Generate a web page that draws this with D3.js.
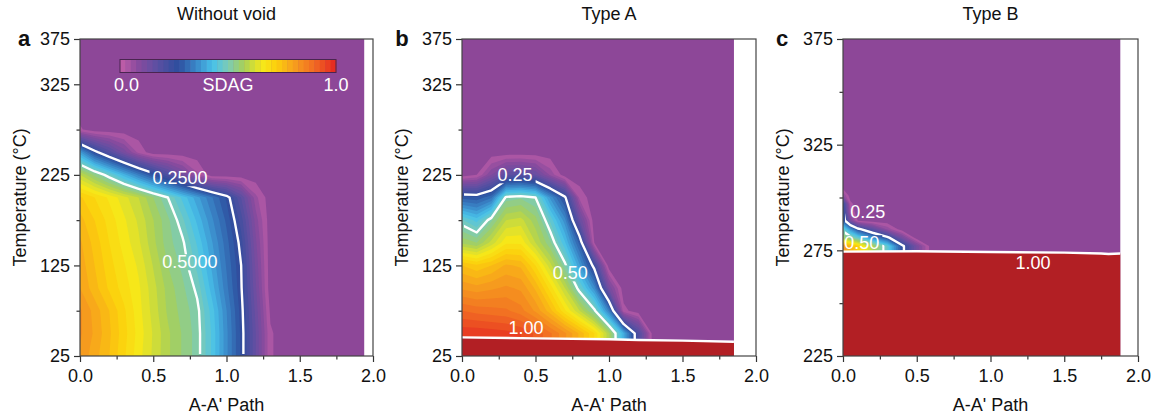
<!DOCTYPE html>
<html>
<head>
<meta charset="utf-8">
<script src="https://cdn.jsdelivr.net/npm/d3@7"></script>
<style>
  body { margin: 0; background: #fff; }
  svg { font-family: Arial, "Liberation Sans", sans-serif; }
</style>
</head>
<body>
<svg id="chart" width="1156" height="416"></svg>
<script>
// ---- data ----
// panel a: Without void (SDAG grid, rows = temperature, cols = A-A' path)
var xA = [0, 0.1, 0.2, 0.3, 0.4, 0.5, 0.6, 0.7, 0.8, 0.9, 1.0, 1.1, 1.2, 1.3, 1.4, 1.94];
var tA = [25, 50, 75, 100, 125, 150, 175, 200, 225, 250, 275, 300, 375];
var vA = [
  [0.82, 0.785, 0.75, 0.705, 0.66, 0.62, 0.58, 0.547, 0.513, 0.446, 0.357, 0.268, 0.15, 0.025, 0, 0],
  [0.83, 0.795, 0.755, 0.71, 0.665, 0.622, 0.58, 0.547, 0.513, 0.446, 0.357, 0.268, 0.15, 0.025, 0, 0],
  [0.83, 0.79, 0.75, 0.705, 0.66, 0.615, 0.57, 0.54, 0.509, 0.439, 0.351, 0.263, 0.141, 0.013, 0, 0],
  [0.80, 0.76, 0.72, 0.688, 0.655, 0.61, 0.565, 0.531, 0.492, 0.413, 0.333, 0.254, 0.128, 0, 0, 0],
  [0.79, 0.75, 0.71, 0.678, 0.645, 0.598, 0.55, 0.518, 0.467, 0.395, 0.322, 0.25, 0.118, 0, 0, 0],
  [0.78, 0.74, 0.70, 0.665, 0.63, 0.583, 0.535, 0.506, 0.446, 0.378, 0.311, 0.237, 0.105, 0, 0, 0],
  [0.76, 0.725, 0.69, 0.655, 0.62, 0.576, 0.531, 0.481, 0.419, 0.356, 0.294, 0.213, 0.088, 0, 0, 0],
  [0.73, 0.70, 0.67, 0.635, 0.60, 0.55, 0.50, 0.443, 0.385, 0.328, 0.27, 0.174, 0.058, 0, 0, 0],
  [0.60, 0.541, 0.479, 0.41, 0.34, 0.271, 0.20, 0.129, 0.057, 0, 0, 0, 0, 0, 0, 0],
  [0.38, 0.267, 0.19, 0.116, 0.041, 0, 0, 0, 0, 0, 0, 0, 0, 0, 0, 0],
  [0.025, 0, 0, 0, 0, 0, 0, 0, 0, 0, 0, 0, 0, 0, 0, 0],
  [0, 0, 0, 0, 0, 0, 0, 0, 0, 0, 0, 0, 0, 0, 0, 0],
  [0, 0, 0, 0, 0, 0, 0, 0, 0, 0, 0, 0, 0, 0, 0, 0]
];

// panel b: Type A
var xB = [0, 0.1, 0.2, 0.3, 0.4, 0.5, 0.6, 0.7, 0.8, 0.9, 1.0, 1.1, 1.2, 1.3, 1.85];
var tB = [25, 50, 75, 100, 125, 150, 175, 200, 225, 250, 375];
var vB = [
  [0.97, 0.97, 0.965, 0.96, 0.95, 0.92, 0.88, 0.83, 0.77, 0.70, 0.58, 0.40, 0.2, 0, 0],
  [0.97, 0.97, 0.965, 0.96, 0.95, 0.92, 0.88, 0.83, 0.77, 0.70, 0.58, 0.40, 0.2, 0, 0],
  [0.90, 0.89, 0.885, 0.88, 0.86, 0.82, 0.76, 0.68, 0.60, 0.51, 0.34, 0.03, 0, 0, 0],
  [0.82, 0.81, 0.82, 0.83, 0.82, 0.77, 0.69, 0.60, 0.48, 0.36, 0.12, 0, 0, 0, 0],
  [0.75, 0.73, 0.75, 0.78, 0.77, 0.70, 0.61, 0.51, 0.38, 0.23, 0, 0, 0, 0, 0],
  [0.57, 0.55, 0.61, 0.67, 0.67, 0.60, 0.53, 0.43, 0.29, 0.02, 0, 0, 0, 0, 0],
  [0.48, 0.44, 0.52, 0.60, 0.61, 0.56, 0.47, 0.36, 0.15, 0, 0, 0, 0, 0, 0],
  [0.29, 0.28, 0.32, 0.51, 0.52, 0.50, 0.37, 0.26, 0.04, 0, 0, 0, 0, 0, 0],
  [0, 0.02, 0.10, 0.17, 0.18, 0.15, 0.07, 0, 0, 0, 0, 0, 0, 0, 0],
  [0, 0, 0, 0, 0, 0, 0, 0, 0, 0, 0, 0, 0, 0, 0],
  [0, 0, 0, 0, 0, 0, 0, 0, 0, 0, 0, 0, 0, 0, 0]
];
// top edge of the SDAG >= 1 region (type A)
var satXB = [0, 0.5, 1.0, 1.2, 1.5, 1.85];
var satTB = [45.6, 44.5, 43.5, 42.7, 42, 40.8];

// panel c: Type B
var xC = [0, 0.05, 0.1, 0.2, 0.3, 0.4, 0.5, 0.6, 0.7, 1.88];
var tC = [270, 277, 281, 285, 289, 293, 297, 301, 305, 375];
var vC = [
  [0.82, 0.77, 0.72, 0.58, 0.47, 0.27, 0.12, 0, 0, 0],
  [0.82, 0.77, 0.72, 0.58, 0.47, 0.27, 0.12, 0, 0, 0],
  [0.56, 0.52, 0.47, 0.36, 0.27, 0.12, 0, 0, 0, 0],
  [0.48, 0.37, 0.27, 0.17, 0.07, 0, 0, 0, 0, 0],
  [0.30, 0.12, 0.02, 0, 0, 0, 0, 0, 0, 0],
  [0.27, 0.05, 0, 0, 0, 0, 0, 0, 0, 0],
  [0.25, 0.03, 0, 0, 0, 0, 0, 0, 0, 0],
  [0.08, 0, 0, 0, 0, 0, 0, 0, 0, 0],
  [0, 0, 0, 0, 0, 0, 0, 0, 0, 0],
  [0, 0, 0, 0, 0, 0, 0, 0, 0, 0]
];
var satXC = [0, 0.5, 1.0, 1.5, 1.75, 1.8, 1.88];
var satTC = [274.4, 274.6, 274.2, 273.9, 273.5, 273.3, 273.5];

// contour label texts and where they sit (path, temperature)
var labelsA = [{t: "0.2500", x: 0.683, T: 221.5}, {t: "0.5000", x: 0.75, T: 128.8}];
var labelsB = [{t: "0.25", x: 0.361, T: 224.8}, {t: "0.50", x: 0.736, T: 116.6}, {t: "1.00", x: 0.436, T: 55.9}];
var labelsC = [{t: "0.25", x: 0.168, T: 293.1}, {t: "0.50", x: 0.127, T: 278.5}, {t: "1.00", x: 1.289, T: 269}];

var xTicks = [0, 0.5, 1.0, 1.5, 2.0];
var xMinor = [0.25, 0.75, 1.25, 1.75];

// ---- colour map ----
var cStops = [0, 0.08, 0.17, 0.27, 0.35, 0.43, 0.5, 0.57, 0.62, 0.66, 0.72, 0.8, 0.9, 1];
var cCols = ["#c45fa9", "#8a4b9e", "#5c4fa2", "#2d4e9e", "#3a86c8", "#48c2ea", "#7ccbb6",
             "#a5cf5c", "#d4de34", "#f6e81a", "#fcd00c", "#f7a21d", "#f16a23", "#e42421"];
var color = d3.scaleLinear().domain(cStops).range(cCols);
var levels = [0.02].concat(d3.range(2, 40).map(function(k) { return k * 0.025; }));
function bandColor(i) {
  var lo = levels[i], hi = i + 1 < levels.length ? levels[i + 1] : 1;
  return color((lo + hi) / 2);
}
var bgColor = "#8d4798", satColor = "#b21f24";

var panels = [
  {left: 80, right: 373, xs: xA, ts: tA, rows: vA, tDom: [25, 375],
   yTicks: [25, 125, 225, 325, 375], yMinor: [75, 175, 275],
   lines: [0.25, 0.5], labels: labelsA, title: "Without void", letter: "a", letterX: 24},
  {left: 462, right: 756, xs: xB, ts: tB, rows: vB, tDom: [25, 375],
   yTicks: [25, 125, 225, 325, 375], yMinor: [75, 175, 275],
   lines: [0.25, 0.5], labels: labelsB, title: "Type A", letter: "b", letterX: 402,
   satX: satXB, satT: satTB},
  {left: 843, right: 1138, xs: xC, ts: tC, rows: vC, tDom: [225, 375],
   yTicks: [225, 275, 325, 375], yMinor: [250, 300, 350],
   lines: [0.25, 0.5], labels: labelsC, title: "Type B", letter: "c", letterX: 782,
   satX: satXC, satT: satTC}
];

var svg = d3.select("#chart");
var defs = svg.append("defs");
var plotTop = 39, plotBottom = 356;

function gridScale(vals) {
  return d3.scaleLinear().domain(vals.map(function(d, i) { return i + 0.5; })).range(vals).clamp(true);
}

panels.forEach(function(p, pi) {
  var x = d3.scaleLinear().domain([0, 2]).range([p.left, p.right]);
  var y = d3.scaleLinear().domain(p.tDom).range([plotBottom, plotTop]);
  var nx = p.xs.length, ny = p.ts.length;
  var xMax = p.xs[nx - 1];
  var g = svg.append("g");

  // value 0 background
  g.append("rect")
      .attr("x", x(0)).attr("y", plotTop)
      .attr("width", x(xMax) - x(0)).attr("height", plotBottom - plotTop)
      .attr("fill", bgColor);

  var gx = gridScale(p.xs), gy = gridScale(p.ts);
  var path = d3.geoPath(d3.geoTransform({
    point: function(a, b) { this.stream.point(x(gx(a)), y(gy(b))); }
  }));
  var flat = [].concat.apply([], p.rows);

  var bands = d3.contours().size([nx, ny]).thresholds(levels)(flat);
  g.selectAll("path.band")
    .data(bands)
    .enter().append("path")
      .attr("class", "band")
      .attr("d", path)
      .attr("fill-rule", "evenodd")
      .attr("fill", function(d, i) { return bandColor(i); });

  // white contour lines, clipped to the data area and broken at labels
  defs.append("clipPath").attr("id", "clip" + pi)
    .append("rect")
      .attr("x", x(0) + 2).attr("y", plotTop + 2)
      .attr("width", x(xMax) - x(0) - 4).attr("height", plotBottom - plotTop - 4);
  var mask = defs.append("mask").attr("id", "mask" + pi)
      .attr("maskUnits", "userSpaceOnUse")
      .attr("x", 0).attr("y", 0).attr("width", 1156).attr("height", 416);
  mask.append("rect").attr("width", 1156).attr("height", 416).attr("fill", "#fff");

  var lineG = g.append("g").attr("clip-path", "url(#clip" + pi + ")")
    .append("g").attr("mask", "url(#mask" + pi + ")");
  lineG.selectAll("path")
    .data(d3.contours().size([nx, ny]).thresholds(p.lines)(flat))
    .enter().append("path")
      .attr("d", path)
      .attr("fill", "none")
      .attr("stroke", "#fff")
      .attr("stroke-width", 2.4)
      .attr("stroke-linejoin", "round");

  // saturated region (SDAG >= 1) and its 1.00 line
  if (p.satX) {
    var sat = p.satX.map(function(d, i) { return [d, p.satT[i]]; });
    g.append("path")
        .datum(sat)
        .attr("fill", satColor)
        .attr("d", d3.area()
          .x(function(d) { return x(d[0]); })
          .y0(y(p.tDom[0]))
          .y1(function(d) { return y(d[1]); }));
    g.append("path")
        .datum(sat)
        .attr("fill", "none")
        .attr("stroke", "#fff")
        .attr("stroke-width", 2.4)
        .attr("d", d3.line()
          .x(function(d) { return x(d[0]); })
          .y(function(d) { return y(d[1]); }));
  }

  // contour labels
  var lab = g.selectAll("text.clab")
    .data(p.labels)
    .enter().append("text")
      .attr("class", "clab")
      .attr("x", function(d) { return x(d.x); })
      .attr("y", function(d) { return y(d.T); })
      .attr("dy", "0.35em")
      .attr("text-anchor", "middle")
      .attr("fill", "#fff")
      .attr("font-size", 18)
      .text(function(d) { return d.t; });
  lab.each(function() {
    var b = this.getBBox();
    mask.append("rect")
      .attr("x", b.x - 3).attr("y", b.y + 2)
      .attr("width", b.width + 6).attr("height", b.height - 4)
      .attr("fill", "#000");
  });

  // axes
  var xAxis = svg.append("g").attr("transform", "translate(0," + plotBottom + ")");
  xAxis.call(d3.axisBottom(x).tickValues(xTicks).tickFormat(d3.format(".1f")).tickSize(6).tickPadding(7));
  xAxis.append("g").call(d3.axisBottom(x).tickValues(xMinor).tickFormat("").tickSize(3.5));
  var yAxis = svg.append("g").attr("transform", "translate(" + p.left + ",0)");
  yAxis.call(d3.axisLeft(y).tickValues(p.yTicks).tickFormat(d3.format("d")).tickSize(6).tickPadding(4));
  yAxis.append("g").call(d3.axisLeft(y).tickValues(p.yMinor).tickFormat("").tickSize(3.5));
  svg.selectAll(".domain").remove();
  [xAxis, yAxis].forEach(function(a) {
    a.attr("font-family", null).attr("font-size", null);
    a.selectAll("text").attr("font-size", 18).attr("fill", "#111");
    a.selectAll("line").attr("stroke", "#333").attr("stroke-width", 1.2);
  });

  // frame
  svg.append("rect")
      .attr("x", p.left).attr("y", plotTop)
      .attr("width", p.right - p.left).attr("height", plotBottom - plotTop)
      .attr("fill", "none").attr("stroke", "#444").attr("stroke-width", 1.2);

  // titles
  svg.append("text")
      .attr("x", (p.left + p.right) / 2).attr("y", 20)
      .attr("text-anchor", "middle").attr("font-size", 18).attr("fill", "#111")
      .text(p.title);
  svg.append("text")
      .attr("x", p.letterX).attr("y", 46)
      .attr("text-anchor", "middle").attr("font-size", 22).attr("font-weight", "bold").attr("fill", "#111")
      .text(p.letter);
  svg.append("text")
      .attr("transform", "translate(" + (p.left - 60) + "," + ((plotTop + plotBottom) / 2) + ") rotate(-90)")
      .attr("dy", "0.35em")
      .attr("text-anchor", "middle").attr("font-size", 18).attr("fill", "#111")
      .text("Temperature (°C)");
  svg.append("text")
      .attr("x", (p.left + p.right) / 2).attr("y", 411)
      .attr("text-anchor", "middle").attr("font-size", 18).attr("fill", "#111")
      .text("A-A' Path");

  // colour bar in panel a
  if (pi === 0) {
    var cb = d3.scaleLinear().domain([0, 1]).range([120, 336]);
    var edges = d3.range(0, 41).map(function(k) { return k * 0.025; });
    var bar = svg.append("g");
    bar.selectAll("rect")
      .data(edges.slice(0, -1))
      .enter().append("rect")
        .attr("x", function(d) { return cb(d); })
        .attr("y", 59.5)
        .attr("width", cb(0.025) - cb(0) + 0.4)
        .attr("height", 13)
        .attr("fill", function(d) { return color(d + 0.0125); });
    bar.append("rect")
        .attr("x", cb(0)).attr("y", 59.5).attr("width", cb(1) - cb(0)).attr("height", 13)
        .attr("fill", "none").attr("stroke", "#4a2550").attr("stroke-width", 1);
    var cbText = [{t: "0.0", v: 0.03}, {t: "SDAG", v: 0.5}, {t: "1.0", v: 1}];
    bar.selectAll("text")
      .data(cbText)
      .enter().append("text")
        .attr("x", function(d) { return cb(d.v); })
        .attr("y", 91)
        .attr("text-anchor", "middle")
        .attr("font-size", 18)
        .attr("fill", "#fff")
        .text(function(d) { return d.t; });
  }
});
</script>
</body>
</html>
